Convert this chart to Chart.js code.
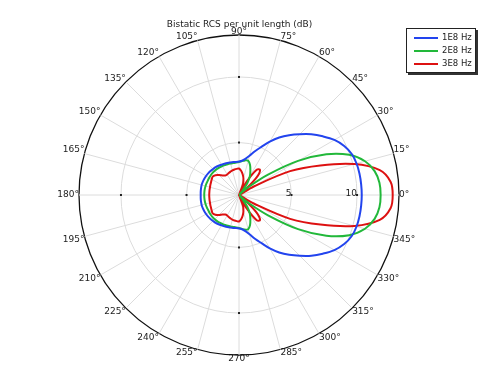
<!DOCTYPE html>
<html>
<head>
<meta charset="utf-8">
<script src="https://cdn.jsdelivr.net/npm/chart.js@4.4.0/dist/chart.umd.min.js"></script>
<style>
  body { margin: 0; background: #fff; }
  #wrap { position: relative; width: 479px; height: 366px; overflow: hidden; }
  .legend {
    position: absolute; left: 406px; top: 28px; width: 68px; height: 43px;
    border: 1px solid #222; box-shadow: 2px 2px 0 #333; background: #fff;
    font: 8.5px "DejaVu Sans", sans-serif; color: #222;
  }
  .legend .row { position: absolute; left: 7px; height: 10px; line-height: 10px; white-space: nowrap; }
  .legend .sw { display: inline-block; width: 24px; height: 2px; vertical-align: middle; margin-right: 4px; }
</style>
</head>
<body>
<div id="wrap">
  <canvas id="rcs" width="479" height="366"></canvas>
  <div class="legend">
    <div class="row" style="top:3px"><span class="sw" style="background:#2244ee"></span>1E8 Hz</div>
    <div class="row" style="top:16px"><span class="sw" style="background:#22b83a"></span>2E8 Hz</div>
    <div class="row" style="top:29px"><span class="sw" style="background:#dd1111"></span>3E8 Hz</div>
  </div>
</div>
<script>
// angles (deg, counter-clockwise from +x) and RCS values in dB
var angleDeg = [0,5,10,15,20,25,30,35,40,45,50,55,60,65,70,75,80,85,90,95,100,105,110,115,120,125,130,135,140,145,150,155,160,165,170,175,
  180,185,190,195,200,205,210,215,220,225,230,235,240,245,250,255,260,265,270,275,280,285,290,295,300,305,310,315,320,325,330,335,340,345,350,355];

var rcs1E8 = [10.36,10.35,10.33,10.28,10.15,9.85,9.4,8.8,8.2,7.55,6.95,6.35,5.7,5.05,4.55,4.1,3.8,3.62,3.55,3.53,3.55,3.57,3.6,3.63,3.67,3.72,3.77,3.8,3.84,3.87,3.9,3.92,3.94,3.95,3.94,3.93,
  3.92,3.93,3.94,3.95,3.94,3.92,3.9,3.87,3.84,3.8,3.77,3.72,3.67,3.63,3.6,3.57,3.55,3.53,3.55,3.62,3.8,4.1,4.55,5.05,5.7,6.35,6.95,7.55,8.2,8.8,9.4,9.85,10.15,10.28,10.33,10.35];

var rcs2E8 = [11.8,11.75,11.5,10.95,9.95,8.35,6.2,3.7,1.9,1.1,1.4,2.1,2.65,3.05,3.45,3.7,3.68,3.6,3.52,3.48,3.47,3.48,3.5,3.52,3.55,3.58,3.6,3.62,3.63,3.63,3.62,3.62,3.63,3.64,3.65,3.65,
  3.65,3.65,3.65,3.64,3.63,3.62,3.62,3.63,3.63,3.62,3.6,3.58,3.55,3.52,3.5,3.48,3.47,3.48,3.52,3.6,3.68,3.7,3.45,3.05,2.65,2.1,1.4,1.1,1.9,3.7,6.2,8.35,9.95,10.95,11.5,11.75];

var rcs3E8 = [12.72,12.6,11.9,10.1,7.6,5.3,2.3,1.0,1.6,2.9,3.5,3.35,2.2,1.1,1.9,2.3,2.6,2.85,3.02,3.0,2.98,2.95,2.9,2.85,2.8,2.82,2.95,3.15,3.35,3.45,3.4,3.35,3.32,3.29,3.28,3.27,
  3.27,3.27,3.28,3.29,3.32,3.35,3.4,3.45,3.35,3.15,2.95,2.82,2.8,2.85,2.9,2.95,2.98,3.0,3.02,2.85,2.6,2.3,1.9,1.1,2.2,3.35,3.5,2.9,1.6,1.0,2.3,5.3,7.6,10.1,11.9,12.6];

var tickValues = [5, 10];
var rMin = 1, rMax = 13.2;

// radar goes clockwise from startAngle, so walk the angles backwards
var order = angleDeg.map(function(_, i) { return (angleDeg.length - i) % angleDeg.length; });
var pick = function(arr) { return order.map(function(a) { return arr[a]; }); };

var radialTickText = {
  id: 'radialTickText',
  afterDraw: function(chart) {
    var sc = chart.scales.r, ctx = chart.ctx;
    ctx.save();
    ctx.font = '9px "DejaVu Sans"';
    ctx.fillStyle = '#222';
    ctx.textAlign = 'right';
    ctx.textBaseline = 'alphabetic';
    tickValues.forEach(function(v) {
      var d = sc.getDistanceFromCenterForValue(v);
      ctx.fillText(String(v), sc.xCenter + d, sc.yCenter + 1);
      // little tick marks where the rings cross the axes
      ctx.fillRect(sc.xCenter + d - 1, sc.yCenter - 1, 2, 2);
      ctx.fillRect(sc.xCenter - d - 1, sc.yCenter - 1, 2, 2);
      ctx.fillRect(sc.xCenter - 1, sc.yCenter - d - 1, 2, 2);
      ctx.fillRect(sc.xCenter - 1, sc.yCenter + d - 1, 2, 2);
    });
    ctx.restore();
  }
};

var ctx = document.getElementById('rcs');
var chart = new Chart(ctx, {
  type: 'radar',
  data: {
    labels: order.map(function(a) { return angleDeg[a] + '°'; }),
    datasets: [
      { label: '1E8 Hz', data: pick(rcs1E8), borderColor: '#2244ee' },
      { label: '2E8 Hz', data: pick(rcs2E8), borderColor: '#22b83a' },
      { label: '3E8 Hz', data: pick(rcs3E8), borderColor: '#dd1111' }
    ]
  },
  options: {
    responsive: false,
    animation: false,
    elements: {
      line: { borderWidth: 2, fill: false, tension: 0.35 },
      point: { radius: 0, hoverRadius: 0 }
    },
    layout: { padding: { top: 0, bottom: 2 } },
    plugins: {
      legend: { display: false },
      tooltip: { enabled: false },
      title: {
        display: true,
        text: 'Bistatic RCS per unit length (dB)',
        color: '#222',
        font: { family: 'DejaVu Sans', size: 9, weight: 'normal' },
        padding: { top: 19, bottom: -2 }
      }
    },
    scales: {
      r: {
        min: rMin,
        max: rMax,
        startAngle: 90,
        afterBuildTicks: function(scale) {
          scale.ticks = [rMin].concat(tickValues, [rMax]).map(function(v) { return { value: v }; });
        },
        ticks: { display: false },
        grid: {
          circular: true,
          color: function(c) { return c.tick && c.tick.value === rMax ? '#111' : '#dcdcdc'; },
          lineWidth: function(c) { return c.tick && c.tick.value === rMax ? 1.3 : 1; }
        },
        angleLines: {
          color: '#dcdcdc',
          lineWidth: function(c) { return c.index % 3 === 0 ? 1 : 0; }
        },
        pointLabels: {
          color: '#222',
          padding: 0,
          font: { family: 'DejaVu Sans', size: 9, lineHeight: 0.8 },
          callback: function(lbl, i) { return i % 3 === 0 ? lbl : ''; }
        }
      }
    }
  },
  plugins: [radialTickText]
});
</script>
</body>
</html>
